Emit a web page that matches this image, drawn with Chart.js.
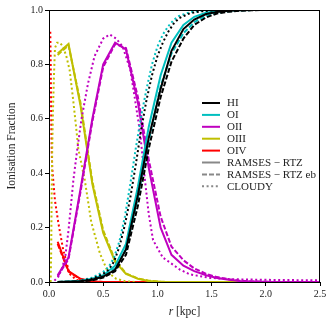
<!DOCTYPE html>
<html>
<head>
<meta charset="utf-8">
<script src="https://cdn.jsdelivr.net/npm/chart.js@4.4.1/dist/chart.umd.min.js"></script>
<style>
  html, body { margin: 0; padding: 0; background: #fff; }
  #wrap { width: 331px; height: 331px; }
</style>
</head>
<body>
<div id="wrap"><canvas id="chart"></canvas></div>
<script>
// radial bins of the RAMSES profiles (kpc)
const rRamses = [0.08, 0.18, 0.29, 0.40, 0.50, 0.61, 0.71, 0.82, 0.92, 1.03, 1.13, 1.24, 1.34, 1.45, 1.55, 1.66, 1.76, 1.87, 1.97, 2.08, 2.18, 2.29, 2.39, 2.50];

// RAMSES - RTZ
const hiRtz   = [0, 0.001, 0.003, 0.008, 0.02, 0.045, 0.12, 0.32, 0.53, 0.71, 0.85, 0.93, 0.965, 0.985, 0.993, 0.997, 0.999, 1, 1, 1, 1, 1, 1, 1];
const oiRtz   = [0, 0.002, 0.005, 0.012, 0.025, 0.06, 0.14, 0.35, 0.57, 0.76, 0.88, 0.945, 0.975, 0.99, 0.996, 0.998, 1, 1, 1, 1, 1, 1, 1, 1];
const oiiRtz  = [0.025, 0.09, 0.34, 0.60, 0.80, 0.88, 0.855, 0.66, 0.42, 0.20, 0.10, 0.06, 0.04, 0.025, 0.015, 0.008, 0.004, 0.002, 0.001, 0, 0, 0, 0, 0];
const oiiiRtz = [0.84, 0.875, 0.65, 0.36, 0.18, 0.075, 0.03, 0.012, 0.004, 0.001, 0, 0, 0, 0, 0, 0, 0, 0, 0, 0, 0, 0, 0, 0];
const oivRtz  = [0.148, 0.04, 0.012, 0.002, 0, 0, 0, 0, 0, 0, 0, 0, 0, 0, 0, 0, 0, 0, 0, 0, 0, 0, 0, 0];

// RAMSES - RTZ eb
const hiEb   = [0, 0.001, 0.002, 0.006, 0.016, 0.04, 0.10, 0.28, 0.49, 0.68, 0.81, 0.895, 0.945, 0.973, 0.987, 0.994, 0.997, 0.999, 1, 1, 1, 1, 1, 1];
const oiEb   = [0, 0.002, 0.004, 0.01, 0.022, 0.05, 0.12, 0.31, 0.52, 0.72, 0.84, 0.915, 0.955, 0.98, 0.99, 0.995, 0.998, 1, 1, 1, 1, 1, 1, 1];
const oiiEb  = [0.02, 0.085, 0.33, 0.59, 0.79, 0.875, 0.86, 0.68, 0.45, 0.24, 0.13, 0.08, 0.05, 0.03, 0.018, 0.01, 0.005, 0.002, 0.001, 0, 0, 0, 0, 0];
const oiiiEb = [0.835, 0.87, 0.66, 0.37, 0.19, 0.08, 0.032, 0.013, 0.005, 0.001, 0, 0, 0, 0, 0, 0, 0, 0, 0, 0, 0, 0, 0, 0];
const oivEb  = [0.14, 0.038, 0.01, 0.002, 0, 0, 0, 0, 0, 0, 0, 0, 0, 0, 0, 0, 0, 0, 0, 0, 0, 0, 0, 0];

// CLOUDY
const rCloudyH = [0.3, 0.4, 0.5, 0.55, 0.6, 0.65, 0.7, 0.75, 0.8, 0.85, 0.9, 0.95, 1.0, 1.05, 1.1, 1.15, 1.2, 1.3, 1.4, 1.5, 1.7, 2.0, 2.5];
const hiCloudy = [0.005, 0.012, 0.03, 0.045, 0.075, 0.13, 0.21, 0.31, 0.43, 0.56, 0.67, 0.76, 0.83, 0.88, 0.92, 0.95, 0.97, 0.988, 0.995, 0.998, 1, 1, 1];
const oiCloudy = [0.007, 0.016, 0.037, 0.055, 0.09, 0.15, 0.24, 0.36, 0.49, 0.61, 0.71, 0.80, 0.865, 0.91, 0.94, 0.963, 0.978, 0.992, 0.997, 0.999, 1, 1, 1];

const rCloudyOII = [0.05, 0.086, 0.12, 0.15, 0.18, 0.225, 0.255, 0.3, 0.36, 0.42, 0.5, 0.56, 0.62, 0.68, 0.75, 0.79, 0.84, 0.885, 0.92, 0.96, 1.05, 1.21, 1.3, 1.49, 1.7, 2.0, 2.5];
const oiiCloudy  = [0.005, 0.02, 0.05, 0.093, 0.19, 0.375, 0.47, 0.6, 0.73, 0.83, 0.895, 0.91, 0.895, 0.865, 0.78, 0.68, 0.55, 0.375, 0.25, 0.154, 0.09, 0.045, 0.028, 0.015, 0.01, 0.008, 0.006];

const rCloudyOIII = [0.015, 0.02, 0.024, 0.03, 0.038, 0.045, 0.055, 0.075, 0.1, 0.13, 0.16, 0.19, 0.22, 0.25, 0.27, 0.33, 0.39, 0.47, 0.545, 0.62, 0.7, 0.8];
const oiiiCloudy  = [0, 0.1, 0.3, 0.5, 0.65, 0.75, 0.86, 0.88, 0.88, 0.865, 0.83, 0.78, 0.68, 0.57, 0.49, 0.375, 0.22, 0.105, 0.035, 0.012, 0.003, 0];

const rCloudyOIV = [0.012, 0.016, 0.02, 0.025, 0.03, 0.04, 0.055, 0.085, 0.13, 0.19, 0.25, 0.35, 2.5];
const oivCloudy  = [0.92, 0.8, 0.62, 0.48, 0.42, 0.37, 0.3, 0.22, 0.12, 0.03, 0.008, 0, 0];

const xTicks = [0.0, 0.5, 1.0, 1.5, 2.0, 2.5];
const yTicks = [0.0, 0.2, 0.4, 0.6, 0.8, 1.0];

const species = ['HI', 'OI', 'OII', 'OIII', 'OIV'];
const colors = ['#000000', '#00bfbf', '#bf00bf', '#bfbf00', '#ff0000'];
const legendStyles = ['RAMSES \u2212 RTZ', 'RAMSES \u2212 RTZ eb', 'CLOUDY'];

const rtz = [hiRtz, oiRtz, oiiRtz, oiiiRtz, oivRtz];
const eb = [hiEb, oiEb, oiiEb, oiiiEb, oivEb];
const cloudy = [[rCloudyH, hiCloudy], [rCloudyH, oiCloudy], [rCloudyOII, oiiCloudy], [rCloudyOIII, oiiiCloudy], [rCloudyOIV, oivCloudy]];

const pts = (xs, ys) => xs.map((x, i) => ({ x: x, y: ys[i] }));
const DOT = [2, 2.6], DASH = [5, 2];
const SERIF = '"Liberation Serif", "DejaVu Serif", serif';

const datasets = [];
species.forEach((s, i) => {
    datasets.push({ label: s, data: pts(rRamses, rtz[i]), borderColor: colors[i], borderWidth: 2 });
    datasets.push({ label: s + ' eb', data: pts(rRamses, eb[i]), borderColor: colors[i], borderWidth: 2, borderDash: DASH });
    datasets.push({ label: s + ' cloudy', data: pts(cloudy[i][0], cloudy[i][1]), borderColor: colors[i], borderWidth: 2, borderDash: DOT });
});

const frameAndLegend = {
    id: 'frameAndLegend',
    afterDraw(chart) {
        const ctx = chart.ctx, a = chart.chartArea;
        ctx.save();
        ctx.strokeStyle = '#000'; ctx.lineWidth = 1;
        ctx.strokeRect(a.left + 0.5, a.top + 0.5, a.right - a.left - 1, a.bottom - a.top);

        // legend
        ctx.font = '11px ' + SERIF;
        ctx.fillStyle = '#222';
        ctx.textBaseline = 'middle';
        const x0 = 202, x1 = 220, tx = 227, y0 = 103, dy = 11.9;
        const rows = species.map((s, i) => ({ text: s, color: colors[i], dash: [] }))
            .concat(legendStyles.map((s, i) => ({ text: s, color: '#888', dash: [[], DASH, DOT][i] })));
        rows.forEach((r, i) => {
            const y = y0 + i * dy;
            ctx.strokeStyle = r.color; ctx.lineWidth = 2; ctx.setLineDash(r.dash);
            ctx.beginPath(); ctx.moveTo(x0, y); ctx.lineTo(x1, y); ctx.stroke();
            ctx.setLineDash([]);
            ctx.fillText(r.text, tx, y + 0.5);
        });

        // axis titles
        ctx.fillStyle = '#222';
        ctx.textAlign = 'left';
        const cx = (a.left + a.right) / 2, ty = 312;
        const fs = 11.5;
        ctx.font = 'italic ' + fs + 'px ' + SERIF;
        const w1 = ctx.measureText('r').width;
        ctx.font = fs + 'px ' + SERIF;
        const w2 = ctx.measureText(' [kpc]').width;
        ctx.font = 'italic ' + fs + 'px ' + SERIF;
        ctx.fillText('r', cx - (w1 + w2) / 2, ty);
        ctx.font = fs + 'px ' + SERIF;
        ctx.fillText(' [kpc]', cx - (w1 + w2) / 2 + w1, ty);

        ctx.translate(12, (a.top + a.bottom) / 2);
        ctx.rotate(-Math.PI / 2);
        ctx.textAlign = 'center';
        ctx.fillText('Ionisation Fraction', 0, 0);
        ctx.restore();
    }
};

new Chart(document.getElementById('chart'), {
    type: 'line',
    data: { datasets: datasets },
    options: {
        responsive: true, maintainAspectRatio: false, animation: false,
        layout: { padding: { top: 10, right: 11, left: 0, bottom: 0 } },
        elements: { point: { radius: 0 }, line: { tension: 0 } },
        plugins: { legend: { display: false }, tooltip: { enabled: false } },
        scales: {
            x: {
                type: 'linear', min: 0, max: 2.5,
                afterFit: s => { s.height = 49; },
                afterBuildTicks: s => { s.ticks = xTicks.map(v => ({ value: v })); },
                ticks: { callback: v => v.toFixed(1), color: '#222', font: { family: SERIF, size: 10 }, padding: 2, maxRotation: 0 },
                grid: { drawOnChartArea: false, tickLength: 4, color: '#000' },
                border: { color: '#000' }
            },
            y: {
                min: 0, max: 1,
                afterFit: s => { s.width = 49; },
                afterBuildTicks: s => { s.ticks = yTicks.map(v => ({ value: v })); },
                ticks: { callback: v => v.toFixed(1), color: '#222', font: { family: SERIF, size: 10 }, padding: 2 },
                grid: { drawOnChartArea: false, tickLength: 4, color: '#000' },
                border: { color: '#000' }
            }
        }
    },
    plugins: [frameAndLegend]
});
</script>
</body>
</html>
